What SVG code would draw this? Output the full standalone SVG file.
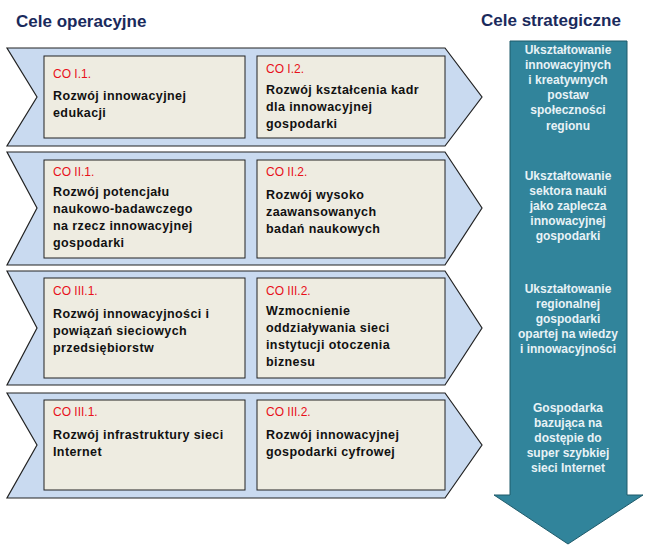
<svg xmlns="http://www.w3.org/2000/svg" width="653" height="546" viewBox="0 0 653 546">
<style>
.chev{fill:#c9daf0;stroke:#222;stroke-width:1.2}
.box{fill:#eeece1;stroke:#222;stroke-width:1}
.code{font-family:"Liberation Sans",Arial,sans-serif;font-size:12px;fill:#e8101a}
.t{font-family:"Liberation Sans",Arial,sans-serif;font-size:12.5px;font-weight:bold;fill:#111;letter-spacing:0.4px}
.h{font-family:"Liberation Sans",Arial,sans-serif;font-size:17px;font-weight:bold;fill:#1a2a5c}
.s{font-family:"Liberation Sans",Arial,sans-serif;font-size:12px;font-weight:bold;fill:#e8f2f6;text-anchor:middle}
</style>
<rect width="653" height="546" fill="#fff"/>
<text class="h" x="16" y="27">Cele operacyjne</text>
<text class="h" x="481" y="26">Cele strategiczne</text>
<g id="arrow">
<polygon points="510,41 627,41 627,495 643,495 568,544 494,495 510,495" fill="#31849b" stroke="#1e5a6a" stroke-width="1"/>
<text class="s"><tspan x="568" y="54">Ukształtowanie</tspan><tspan x="568" y="69">innowacyjnych</tspan><tspan x="568" y="84">i kreatywnych</tspan><tspan x="568" y="99">postaw</tspan><tspan x="568" y="114">społeczności</tspan><tspan x="568" y="130">regionu</tspan></text>
<text class="s"><tspan x="568" y="180">Ukształtowanie</tspan><tspan x="568" y="195">sektora nauki</tspan><tspan x="568" y="210">jako zaplecza</tspan><tspan x="568" y="225">innowacyjnej</tspan><tspan x="568" y="240">gospodarki</tspan></text>
<text class="s"><tspan x="568" y="293">Ukształtowanie</tspan><tspan x="568" y="308">regionalnej</tspan><tspan x="568" y="323">gospodarki</tspan><tspan x="568" y="338">opartej na wiedzy</tspan><tspan x="568" y="353">i innowacyjności</tspan></text>
<text class="s"><tspan x="568" y="412">Gospodarka</tspan><tspan x="568" y="427">bazująca na</tspan><tspan x="568" y="442">dostępie do</tspan><tspan x="568" y="457">super szybkiej</tspan><tspan x="568" y="472">sieci Internet</tspan></text>
</g>
<g id="row1">
<polygon class="chev" points="7,48 445,48 482,97 445,146 7,146 37,97"/>
<rect class="box" x="44" y="56" width="201" height="82"/>
<rect class="box" x="257" y="56" width="188" height="82"/>
<text class="code" x="53" y="78">CO I.1.</text>
<text class="t"><tspan x="53" y="100">Rozwój innowacyjnej</tspan><tspan x="53" y="117">edukacji</tspan></text>
<text class="code" x="266" y="73">CO I.2.</text>
<text class="t"><tspan x="266" y="94">Rozwój kształcenia  kadr</tspan><tspan x="266" y="111">dla innowacyjnej</tspan><tspan x="266" y="128">gospodarki</tspan></text>
</g>
<g id="row2">
<polygon class="chev" points="7,152 445,152 482,208 445,265 7,265 37,208"/>
<rect class="box" x="44" y="160" width="201" height="98"/>
<rect class="box" x="257" y="160" width="188" height="98"/>
<text class="code" x="53" y="176">CO II.1.</text>
<text class="t"><tspan x="53" y="196">Rozwój potencjału</tspan><tspan x="53" y="213">naukowo-badawczego</tspan><tspan x="53" y="230">na rzecz innowacyjnej</tspan><tspan x="53" y="247">gospodarki</tspan></text>
<text class="code" x="266" y="176">CO II.2.</text>
<text class="t"><tspan x="266" y="199">Rozwój wysoko</tspan><tspan x="266" y="216">zaawansowanych</tspan><tspan x="266" y="233">badań naukowych</tspan></text>
</g>
<g id="row3">
<polygon class="chev" points="7,271 445,271 482,328 445,385 7,385 37,328"/>
<rect class="box" x="44" y="278" width="201" height="100"/>
<rect class="box" x="257" y="278" width="188" height="100"/>
<text class="code" x="53" y="295">CO III.1.</text>
<text class="t"><tspan x="53" y="318">Rozwój innowacyjności  i</tspan><tspan x="53" y="335">powiązań  sieciowych</tspan><tspan x="53" y="352">przedsiębiorstw</tspan></text>
<text class="code" x="266" y="295">CO III.2.</text>
<text class="t"><tspan x="266" y="315">Wzmocnienie</tspan><tspan x="266" y="332">oddziaływania  sieci</tspan><tspan x="266" y="349">instytucji otoczenia</tspan><tspan x="266" y="366">biznesu</tspan></text>
</g>
<g id="row4">
<polygon class="chev" points="7,393 445,393 482,445 445,498 7,498 37,445"/>
<rect class="box" x="44" y="400" width="201" height="90"/>
<rect class="box" x="257" y="400" width="188" height="90"/>
<text class="code" x="53" y="416">CO III.1.</text>
<text class="t" x="53" y="439">Rozwój infrastruktury  sieci</text>
<text class="t" x="53" y="456">Internet</text>
<text class="code" x="266" y="416">CO III.2.</text>
<text class="t"><tspan x="266" y="439">Rozwój innowacyjnej</tspan><tspan x="266" y="456">gospodarki cyfrowej</tspan></text>
</g>
<g id="connectors"/>
</svg>
